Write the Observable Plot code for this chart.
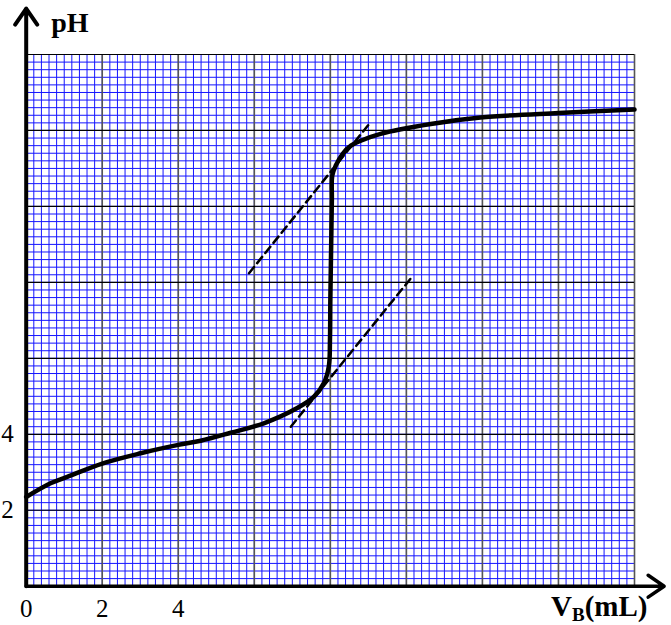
<!DOCTYPE html>
<html><head><meta charset="utf-8">
<script src="https://cdn.jsdelivr.net/npm/d3@7"></script>
<script src="https://cdn.jsdelivr.net/npm/@observablehq/plot@0.6"></script>
<style>
html,body{margin:0;padding:0;background:#fff;}
#chart{width:671px;height:625px;}
svg{overflow:visible;}
</style></head><body><div id="chart"></div>
<script>
// Titration curve
const volumeML = [0, 0.64, 1.08, 2, 3.01, 4, 4.59, 5.38, 6.25, 7.13, 7.57, 7.83, 7.96, 7.99, 8.0, 8.02, 8.04, 8.05, 8.14, 8.32, 8.54, 8.8, 9.32, 10.64, 11.95, 14.0, 16.0];
const pHValues = [2.35, 2.71, 2.88, 3.23, 3.5, 3.72, 3.83, 4.04, 4.29, 4.69, 4.99, 5.35, 5.79, 6.49, 7.55, 8.87, 10.19, 10.81, 11.07, 11.38, 11.6, 11.73, 11.91, 12.17, 12.34, 12.46, 12.55];
// Parallel tangents (dashed)
const tangentUpperX = [5.86, 9.06];
const tangentUpperPH = [8.24, 12.22];
const tangentLowerX = [6.96, 10.16];
const tangentLowerPH = [4.20, 8.16];
// Tick labels
const xTickLabels = [0, 2, 4];
const yTickLabels = [2, 4];
const xMajor = [2, 4, 6, 8, 10, 12, 14, 16];
const yMajor = [2, 4, 6, 8, 10, 12, 14];
const xMax = 16, yMax = 14;
const axisTipX = 16.78, axisTipY = 15.21;
const yLabel = "pH";

const minorX = d3.range(0, 81).map(i => i * 0.2);
const minorY = d3.range(0, 71).map(i => i * 0.2);
const curve = volumeML.map((v, i) => ({v, p: pHValues[i]}));
const tUp = tangentUpperX.map((v, i) => ({v, p: tangentUpperPH[i]}));
const tLo = tangentLowerX.map((v, i) => ({v, p: tangentLowerPH[i]}));
const serif = "Liberation Serif, Times New Roman, serif";

const plot = Plot.plot({
  width: 671, height: 625,
  marginLeft: 25.7, marginRight: 37, marginTop: 54, marginBottom: 39.3,
  x: {domain: [0, xMax], axis: null},
  y: {domain: [0, yMax], axis: null},
  style: {background: "#fff", overflow: "visible"},
  marks: [
    Plot.ruleX(minorX, {x: d => d, y1: 0, y2: yMax, stroke: "#1515ff", strokeWidth: 1}),
    Plot.ruleY(minorY, {y: d => d, x1: 0, x2: xMax, stroke: "#1515ff", strokeWidth: 1}),
    Plot.ruleX(xMajor, {x: d => d, y1: 0, y2: yMax, stroke: "#555", strokeWidth: 1.6}),
    Plot.ruleY(yMajor, {y: d => d, x1: 0, x2: xMax, stroke: "#000", strokeWidth: 1.2}),
    Plot.line(tUp, {x: "v", y: "p", stroke: "#000", strokeWidth: 2.5, strokeDasharray: "8,5"}),
    Plot.line(tLo, {x: "v", y: "p", stroke: "#000", strokeWidth: 2.5, strokeDasharray: "8,5"}),
    Plot.line(curve, {x: "v", y: "p", curve: "catmull-rom", stroke: "#000", strokeWidth: 4.5}),
    Plot.arrow([0], {x1: 0, y1: 0, x2: 0, y2: axisTipY, stroke: "#000", strokeWidth: 4, headLength: 7.3, headAngle: 69}),
    Plot.arrow([0], {x1: 0, y1: 0, x2: axisTipX, y2: 0, stroke: "#000", strokeWidth: 3.5, headLength: 8.3, headAngle: 69}),
    Plot.text(xTickLabels, {x: d => d, y: 0, dy: 31, lineAnchor: "bottom", text: d => String(d), fontFamily: serif, fontSize: 25, fill: "#000"}),
    Plot.text(yTickLabels, {x: 0, y: d => d, dx: -12.5, textAnchor: "end", lineAnchor: "middle", text: d => String(d), fontFamily: serif, fontSize: 25, fill: "#000"}),
    Plot.text([yLabel], {x: 0, y: yMax, dx: 25, dy: -23, textAnchor: "start", lineAnchor: "bottom", text: d => d, fontFamily: serif, fontSize: 28, fontWeight: "bold", fill: "#000"})
  ]
});
document.getElementById("chart").appendChild(plot);

const sx = plot.scale("x"), sy = plot.scale("y");
const svg = d3.select(plot.tagName.toLowerCase() === "svg" ? plot : plot.querySelector("svg"));
const lab = svg.append("text")
  .attr("x", sx.apply(xMax) - 83)
  .attr("y", sy.apply(0) + 30)
  .attr("text-anchor", "start")
  .attr("font-family", serif).attr("font-weight", "bold").attr("font-size", 29).attr("fill", "#000");
lab.append("tspan").text("V");
lab.append("tspan").attr("font-size", 19).attr("dy", 5).text("B");
lab.append("tspan").attr("dy", -5).text("(mL)");
</script>
</body></html>
